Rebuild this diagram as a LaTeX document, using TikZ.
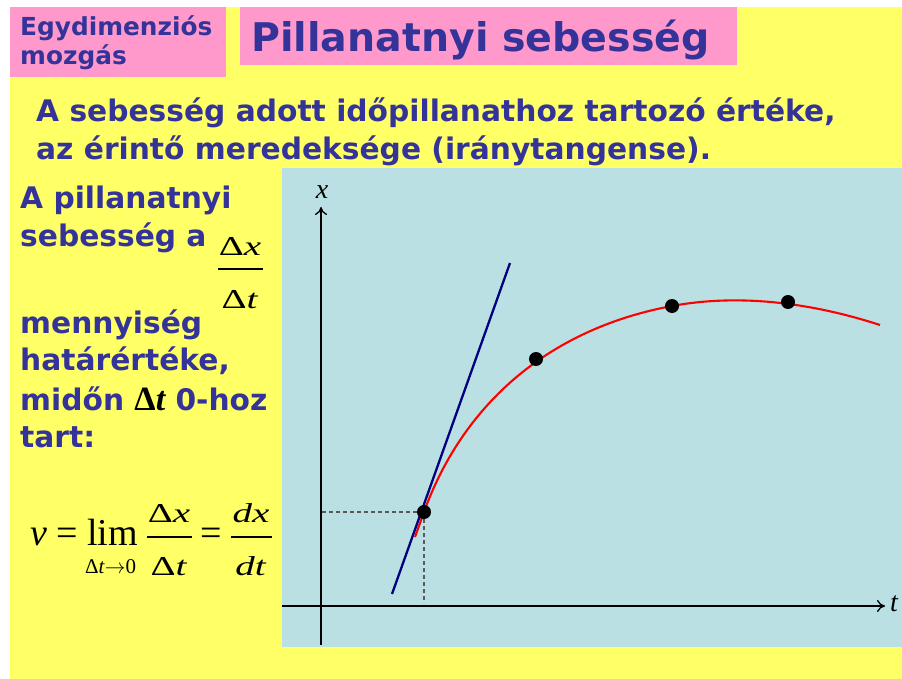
\documentclass[tikz,border=0pt]{standalone}
\usepackage{fontspec}
\setmainfont{DejaVu Sans}
\newfontfamily\tms{Liberation Serif}
\usetikzlibrary{arrows.meta}
\definecolor{txtblue}{HTML}{333399}
\definecolor{yel}{HTML}{FFFF66}
\definecolor{pnk}{HTML}{FF99CC}
\definecolor{panel}{HTML}{BBE0E3}
\definecolor{navyline}{HTML}{000080}
\begin{document}
\begin{tikzpicture}[x=1pt,y=-1pt,
  txt/.style={anchor=base west,inner sep=0,text=txtblue,font=\fontsize{29.7}{36}\bfseries\selectfont},
  cat/.style={anchor=base west,inner sep=0,text=txtblue,font=\fontsize{24.8}{29}\bfseries\selectfont},
  ttl/.style={anchor=base west,inner sep=0,text=txtblue,font=\fontsize{39.5}{46}\bfseries\selectfont},
  mth/.style={anchor=base west,inner sep=0,text=black,font=\fontsize{38}{44}\tms\selectfont},
  frc/.style={anchor=base,inner sep=0,text=black,font=\fontsize{39}{44}\tms\selectfont},
  sub/.style={anchor=base west,inner sep=0,text=black,font=\fontsize{21}{24}\tms\selectfont},
  axl/.style={inner sep=0,text=black,font=\fontsize{28}{32}\tms\itshape\selectfont},
  bar/.style={line width=1.4pt},
  axis/.style={line width=1.3pt,-{To[length=8pt,width=12pt,line width=1.3pt]}},
  dot/.style={circle,fill=black,inner sep=0,minimum size=14pt},
  dashline/.style={draw=black!65,line width=1.3pt,dash pattern=on 4pt off 3pt},
  curve/.style={red,line width=2.1pt},
  tang/.style={navyline,line width=2.3pt}]
\useasboundingbox (0,0) rectangle (902,679);
\fill[white] (0,0) rectangle (902,679);
\fill[yel] (10,7) rectangle (902,679);
\fill[pnk] (10,7) rectangle (226,77);
\fill[pnk] (240,7) rectangle (737,65);
\fill[panel] (282,168) rectangle (902,647);

% headers
\node[cat] (cat1) at (20,36) {Egydimenziós};
\node[cat] (cat2) at (20,65) {mozgás};
\node[ttl] (title) at (251,52) {Pillanatnyi sebesség};
\node[txt] (m1) at (36,122) {A sebesség adott időpillanathoz tartozó értéke,};
\node[txt] (m2) at (36,160) {az érintő meredeksége (iránytangense).};

% left text
\node[txt] (s1) at (20,209) {A pillanatnyi};
\node[txt] (s2) at (20,246) {sebesség a};
\node[frc] (fn) at (240,255) {\scalebox{1}[0.7]{Δ\textit{x}}};
\node[frc] (fd) at (240,308) {\scalebox{1}[0.7]{Δ\textit{t}}};
\coordinate (fbl) at (218,269);
\coordinate (fbr) at (263,269);
\draw[bar] (fbl) -- (fbr);
\node[txt] (s3) at (20,333) {mennyiség};
\node[txt] (s4) at (20,370) {határértéke,};
\node[txt] (s5) at (20,410) {midőn {\color{black}\fontsize{34}{36}\tms\bfseries\selectfont Δ\itshape t} 0-hoz};
\node[txt] (s6) at (20,447) {tart:};

% formula
\node[mth] (fv) at (30,545) {\itshape v};
\node[mth] (feq1) at (56,545) {=};
\node[mth] (flim) at (87,545) {lim};
\node[sub] (fsub) at (85,573) {Δ\textit{t}$\rightarrow$0};
\node[frc] (f1n) at (169,522) {\scalebox{1}[0.7]{Δ\textit{x}}};
\node[frc] (f1d) at (169,575) {\scalebox{1}[0.7]{Δ\textit{t}}};
\coordinate (f1l) at (147,537);
\coordinate (f1r) at (192,537);
\draw[bar] (f1l) -- (f1r);
\node[mth] (feq2) at (200,545) {=};
\node[frc] (f2n) at (251,522) {\scalebox{1}[0.7]{\textit{dx}}};
\node[frc] (f2d) at (251,575) {\scalebox{1}[0.7]{\textit{dt}}};
\coordinate (f2l) at (231,537);
\coordinate (f2r) at (272,537);
\draw[bar] (f2l) -- (f2r);

% axes
\coordinate (vb) at (321,645);
\coordinate (vt) at (321,207);
\coordinate (hl) at (282,606);
\coordinate (hr) at (885,606);
\draw[axis] (vb) -- (vt);
\draw[axis] (hl) -- (hr);
\node[axl] (lx) at (322,192) {x};
\node[axl] (lt) at (894,604) {t};

% curve points
\coordinate (c0) at (415,537);
\coordinate (c1) at (424,512);
\coordinate (c4) at (536,359);
\coordinate (c6) at (672,306);
\coordinate (c8) at (788,302);
\coordinate (c9) at (880,325);

\draw[dashline] (c1) -- (c1 -| vt);
\draw[dashline] (c1) -- ([yshift=3pt]c1 |- hl);
\draw[curve] (c0) -- (c1)
  .. controls (461.3,408.5) and (544.2,329.8) .. (c6)
  .. controls (740.8,293.2) and (813.4,303.4) .. (c9);
\coordinate (ta) at (392,594);
\coordinate (tb) at (510,263);
\draw[tang] (ta) -- (tb);

\node[dot] (p1) at (c1) {};
\node[dot] (p2) at (c4) {};
\node[dot] (p3) at (c6) {};
\node[dot] (p4) at (c8) {};
\end{tikzpicture}
\end{document}
